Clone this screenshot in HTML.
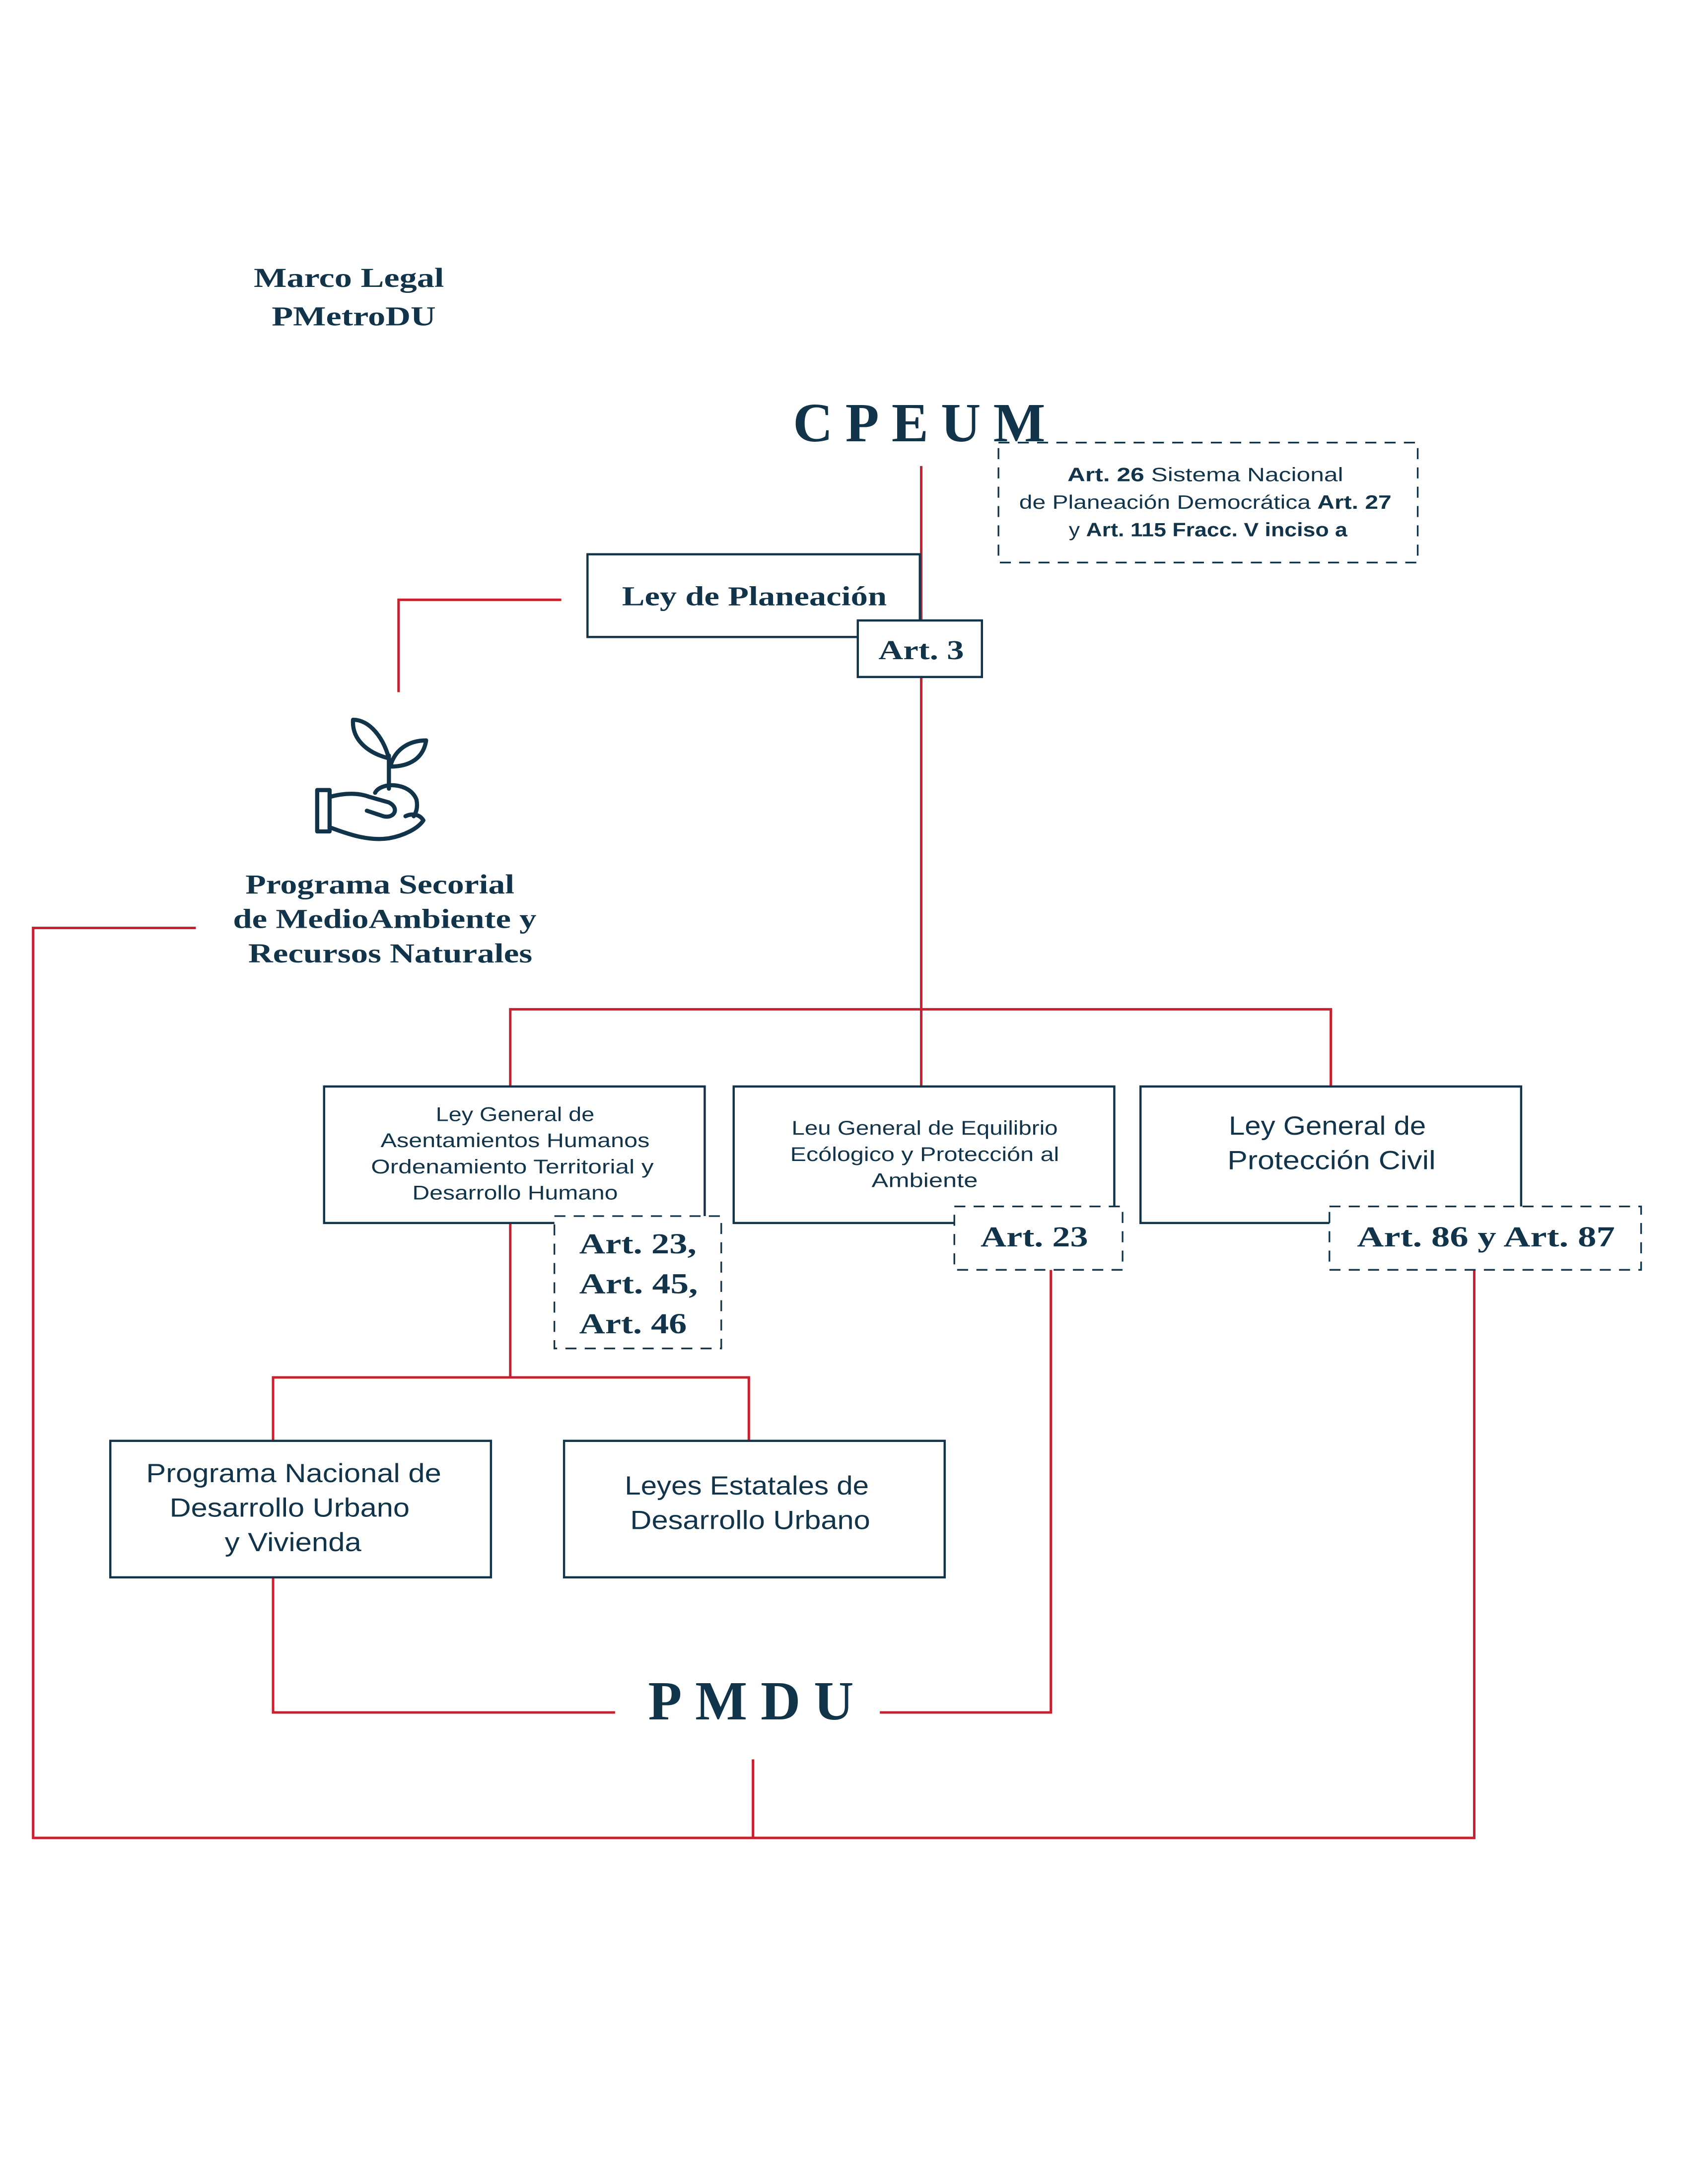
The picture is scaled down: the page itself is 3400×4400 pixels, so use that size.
<!DOCTYPE html>
<html><head><meta charset="utf-8"><style>
html,body{margin:0;padding:0;background:#fff}
svg{display:block}
.s{font-family:"Liberation Serif",serif;font-weight:bold;fill:#12344a}
.n{font-family:"Liberation Sans",sans-serif;fill:#12344a}
</style></head><body>
<svg width="3400" height="4400" viewBox="0 0 1224 1584" xmlns="http://www.w3.org/2000/svg">
<rect width="1224" height="1584" fill="#fff"/>
<g fill="none" stroke="#c8202f" stroke-width="1.8">
<polyline points="668,338 668,788"/>
<polyline points="407,435 289,435 289,502"/>
<polyline points="142,673 24,673 24,1333 1069,1333 1069,921"/>
<polyline points="546,1276 546,1333"/>
<polyline points="370,788 370,732 965,732 965,788"/>
<polyline points="370,887 370,999"/>
<polyline points="198,1045 198,999 543,999 543,1045"/>
<polyline points="198,1144 198,1242 446,1242"/>
<polyline points="638,1242 762,1242 762,921"/>
</g>
<g fill="#fff" stroke="#12344a" stroke-width="1.6">
<rect x="426" y="402" width="241" height="60"/>
<rect x="622" y="450" width="90" height="41"/>
<rect x="235" y="788" width="276" height="99"/>
<rect x="532" y="788" width="276" height="99"/>
<rect x="827" y="788" width="276" height="99"/>
<rect x="80" y="1045" width="276" height="99"/>
<rect x="409" y="1045" width="276" height="99"/>
</g>
<g fill="#fff" stroke="#12344a" stroke-width="1.2" stroke-dasharray="8,6">
<rect x="724" y="321" width="304" height="87"/>
<rect x="402" y="882" width="121" height="96"/>
<rect x="692" y="875" width="122" height="46"/>
<rect x="964" y="875" width="226" height="46"/>
</g>
<text class="s" x="184" y="208" font-size="20" textLength="138" lengthAdjust="spacingAndGlyphs">Marco Legal</text>
<text class="s" x="197" y="236" font-size="20" textLength="119" lengthAdjust="spacingAndGlyphs">PMetroDU</text>
<text class="s" x="575" y="320" font-size="40" textLength="183" lengthAdjust="spacing">CPEUM</text>
<g class="n" font-size="14">
<text x="774" y="349" textLength="200" lengthAdjust="spacingAndGlyphs"><tspan font-weight="bold">Art. 26</tspan>   Sistema Nacional</text>
<text x="739" y="369" textLength="270" lengthAdjust="spacingAndGlyphs">de Planeación Democrática <tspan font-weight="bold">Art. 27</tspan></text>
<text x="775" y="389" textLength="202" lengthAdjust="spacingAndGlyphs">y  <tspan font-weight="bold">Art. 115 Fracc. V inciso a</tspan></text>
</g>
<text class="s" x="451" y="439" font-size="20" textLength="192" lengthAdjust="spacingAndGlyphs">Ley de Planeación</text>
<text class="s" x="637" y="478" font-size="20" textLength="62" lengthAdjust="spacingAndGlyphs">Art. 3</text>
<g fill="none" stroke="#12344a" stroke-width="3" stroke-linecap="round" stroke-linejoin="round">
<path d="M282,572 L282,548"/>
<path d="M282,550 C278,535 268,522 256,522 C255,536 266,546 282,550 Z"/>
<path d="M283,556 C286,544 296,537 309,537 C307,550 297,556 283,556 Z"/>
<rect x="230" y="573" width="9" height="30"/>
<path d="M239,578 C250,575 260,575 268,578 L282,582 C290,586 286,594 278,592 L266,588"/>
<path d="M239,600 C255,606 268,610 282,608 C293,606 303,601 307,595 C304,590 298,590 294,592"/>
<path d="M272,575 C276,567 297,567 302,580 C303,585 302,589 300,592"/>
</g>
<g class="s" font-size="20">
<text x="178" y="648" textLength="195" lengthAdjust="spacingAndGlyphs">Programa Secorial</text>
<text x="169" y="673" textLength="220" lengthAdjust="spacingAndGlyphs">de MedioAmbiente y</text>
<text x="180" y="698" textLength="206" lengthAdjust="spacingAndGlyphs">Recursos Naturales</text>
</g>
<g class="n" font-size="14.5">
<text x="316" y="813" textLength="115" lengthAdjust="spacingAndGlyphs">Ley General de</text>
<text x="276" y="832" textLength="195" lengthAdjust="spacingAndGlyphs">Asentamientos Humanos</text>
<text x="269" y="851" textLength="205" lengthAdjust="spacingAndGlyphs">Ordenamiento Territorial y</text>
<text x="299" y="870" textLength="149" lengthAdjust="spacingAndGlyphs">Desarrollo Humano</text>
<text x="574" y="823" textLength="193" lengthAdjust="spacingAndGlyphs">Leu General de Equilibrio</text>
<text x="573" y="842" textLength="195" lengthAdjust="spacingAndGlyphs">Ecólogico y Protección al</text>
<text x="632" y="861" textLength="77" lengthAdjust="spacingAndGlyphs">Ambiente</text>
</g>
<g class="n" font-size="19">
<text x="891" y="823" textLength="143" lengthAdjust="spacingAndGlyphs">Ley General de</text>
<text x="890" y="848" textLength="151" lengthAdjust="spacingAndGlyphs">Protección Civil</text>
<text x="106" y="1075" textLength="214" lengthAdjust="spacingAndGlyphs">Programa Nacional de</text>
<text x="123" y="1100" textLength="174" lengthAdjust="spacingAndGlyphs">Desarrollo Urbano</text>
<text x="163" y="1125" textLength="99" lengthAdjust="spacingAndGlyphs">y Vivienda</text>
<text x="453" y="1084" textLength="177" lengthAdjust="spacingAndGlyphs">Leyes Estatales de</text>
<text x="457" y="1109" textLength="174" lengthAdjust="spacingAndGlyphs">Desarrollo Urbano</text>
</g>
<g class="s" font-size="21">
<text x="420" y="909" textLength="85" lengthAdjust="spacingAndGlyphs">Art. 23,</text>
<text x="420" y="938" textLength="86" lengthAdjust="spacingAndGlyphs">Art. 45,</text>
<text x="420" y="967" textLength="78" lengthAdjust="spacingAndGlyphs">Art. 46</text>
<text x="711" y="904" textLength="78" lengthAdjust="spacingAndGlyphs">Art. 23</text>
<text x="984" y="904" textLength="187" lengthAdjust="spacingAndGlyphs">Art. 86 y Art. 87</text>
</g>
<text class="s" x="470" y="1247" font-size="40" textLength="149" lengthAdjust="spacing">PMDU</text>
</svg>
</body></html>
